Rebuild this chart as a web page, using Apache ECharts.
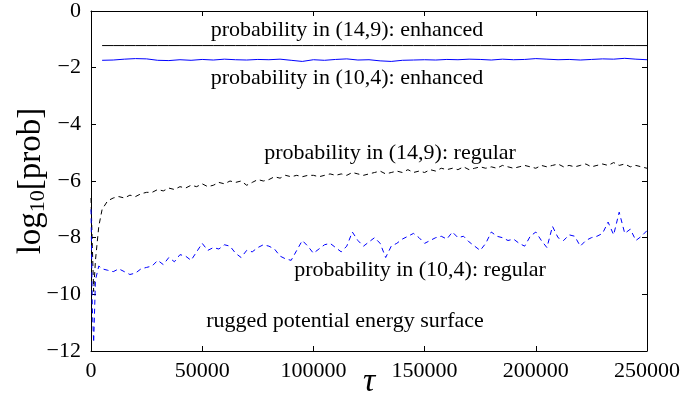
<!DOCTYPE html>
<html>
<head>
<meta charset="utf-8">
<script src="https://cdn.jsdelivr.net/npm/echarts@6/dist/echarts.min.js"></script>
<style>
  html, body { margin: 0; padding: 0; background: #fff; }
  #chart { width: 686px; height: 404px; }
</style>
</head>
<body>
<div id="chart"></div>
<script>
const SERIF = '"Liberation Serif", "DejaVu Serif", serif';

// tau grid for the "regular" runs (dense at the start, then every 2500)
const tauRegular = [0, 600, 1200, 2000, 3500,
  5000, 7500, 10000, 12500, 15000, 17500, 20000, 22500, 25000, 27500,
  30000, 32500, 35000, 37500, 40000, 42500, 45000, 47500, 50000, 52500,
  55000, 57500, 60000, 62500, 65000, 67500, 70000, 72500, 75000, 77500,
  80000, 82500, 85000, 87500, 90000, 92500, 95000, 97500, 100000, 102500,
  105000, 107500, 110000, 112500, 115000, 117500, 120000, 122500, 125000, 127500,
  130000, 132500, 135000, 137500, 140000, 142500, 145000, 147500, 150000, 152500,
  155000, 157500, 160000, 162500, 165000, 167500, 170000, 172500, 175000, 177500,
  180000, 182500, 185000, 187500, 190000, 192500, 195000, 197500, 200000, 202500,
  205000, 207500, 210000, 212500, 215000, 217500, 220000, 222500, 225000, 227500,
  230000, 232500, 235000, 237500, 240000, 242500, 245000, 247500, 250000];

// log10 prob, (14,9) regular  (black dashed)
const reg149 = [-6.6, -8.3, -9.9, -8.8, -7.6,
  -7.0, -6.7, -6.6, -6.55, -6.6, -6.5, -6.55, -6.45, -6.4, -6.4,
  -6.3, -6.35, -6.25, -6.3, -6.2, -6.25, -6.15, -6.2, -6.1, -6.2,
  -6.15, -6.05, -6.1, -6.0, -6.05, -6.0, -6.15, -6.05, -5.95, -6.0,
  -5.95, -5.85, -5.9, -5.8, -5.85, -5.8, -5.85, -5.8, -5.8, -5.85,
  -5.8, -5.75, -5.8, -5.75, -5.8, -5.7, -5.75, -5.8, -5.75, -5.7,
  -5.65, -5.75, -5.7, -5.65, -5.7, -5.6, -5.7, -5.65, -5.7, -5.6,
  -5.65, -5.55, -5.6, -5.55, -5.6, -5.5, -5.6, -5.55, -5.5, -5.55,
  -5.5, -5.55, -5.45, -5.5, -5.55, -5.5, -5.45, -5.5, -5.55, -5.45,
  -5.5, -5.45, -5.4, -5.5, -5.45, -5.5, -5.45, -5.4, -5.5, -5.45,
  -5.4, -5.45, -5.35, -5.45, -5.4, -5.5, -5.45, -5.5, -5.55];

// log10 prob, (10,4) regular  (blue dashed)
const reg104 = [-7.0, -10.5, -11.7, -9.5, -9.0,
  -9.1, -9.15, -9.2, -9.1, -9.2, -9.3, -9.25, -9.1, -9.05, -9.0,
  -8.8, -8.95, -8.7, -8.85, -8.6, -8.65, -8.8, -8.5, -8.2, -8.45,
  -8.35, -8.4, -8.25, -8.3, -8.55, -8.7, -8.45, -8.5, -8.35, -8.25,
  -8.3, -8.4, -8.65, -8.75, -8.8, -8.45, -8.1, -8.3, -8.55, -8.4,
  -8.25, -8.2, -8.35, -8.5, -8.3, -7.8, -8.1, -8.3, -8.15, -8.0,
  -8.2, -8.7, -8.3, -8.2, -8.05, -7.95, -7.85, -8.0, -8.2, -8.1,
  -8.0, -7.95, -8.05, -7.8, -8.0, -7.95, -8.15, -8.3, -8.45, -8.2,
  -7.8, -7.95, -8.0, -8.1, -8.05, -8.2, -8.3, -7.95, -7.8, -8.1,
  -8.35, -7.6, -8.0, -8.1, -7.9, -7.95, -8.3, -8.1, -8.0, -7.95,
  -7.85, -7.45, -7.9, -7.1, -7.85, -7.7, -8.1, -7.95, -7.75];

// tau grid for the "enhanced" runs
const tauEnhanced = [5000, 10000, 15000, 20000, 25000, 30000, 35000, 40000, 45000, 50000,
  55000, 60000, 65000, 70000, 75000, 80000, 85000, 90000, 95000, 100000,
  105000, 110000, 115000, 120000, 125000, 130000, 135000, 140000, 145000, 150000,
  155000, 160000, 165000, 170000, 175000, 180000, 185000, 190000, 195000, 200000,
  205000, 210000, 215000, 220000, 225000, 230000, 235000, 240000, 245000, 250000];

// (14,9) enhanced (black solid)
const enh149 = [-1.22, -1.22, -1.22, -1.22, -1.22, -1.22, -1.22, -1.22, -1.22, -1.22,
  -1.22, -1.22, -1.22, -1.22, -1.22, -1.22, -1.22, -1.22, -1.22, -1.22,
  -1.22, -1.22, -1.22, -1.22, -1.22, -1.22, -1.22, -1.22, -1.22, -1.22,
  -1.22, -1.22, -1.22, -1.22, -1.22, -1.22, -1.22, -1.22, -1.22, -1.22,
  -1.22, -1.22, -1.22, -1.22, -1.22, -1.22, -1.22, -1.22, -1.22, -1.22];

// (10,4) enhanced (blue solid)
const enh104 = [-1.74, -1.73, -1.70, -1.68, -1.69, -1.74, -1.75, -1.72, -1.74, -1.71,
  -1.73, -1.70, -1.72, -1.73, -1.71, -1.72, -1.70, -1.74, -1.78, -1.72,
  -1.74, -1.71, -1.69, -1.73, -1.72, -1.76, -1.78, -1.74, -1.73, -1.72,
  -1.73, -1.71, -1.72, -1.70, -1.71, -1.73, -1.70, -1.72, -1.71, -1.68,
  -1.70, -1.72, -1.71, -1.73, -1.71, -1.69, -1.70, -1.67, -1.70, -1.72];

const notes = [
  { text: 'probability in (14,9): enhanced', x: 347, y: 30 },
  { text: 'probability in (10,4): enhanced', x: 347, y: 78 },
  { text: 'probability in (14,9): regular', x: 390, y: 153 },
  { text: 'probability in (10,4): regular', x: 420, y: 270 },
  { text: 'rugged potential energy surface', x: 345, y: 321 }
];

const zip = (xs, ys) => xs.map((x, i) => [x, ys[i]]);
const minus = (v) => (v < 0 ? '\u2212' + (-v) : String(v));

const chart = echarts.init(document.getElementById('chart'), null, { renderer: 'canvas' });

const axisBase = {
  axisLine: { show: true, onZero: false, lineStyle: { color: '#000', width: 1 } },
  axisTick: { show: true, inside: true, length: 5, lineStyle: { color: '#000' } },
  splitLine: { show: false }
};

chart.setOption({
  animation: false,
  backgroundColor: '#fff',
  grid: { left: 91, right: 39, top: 11, bottom: 53, containLabel: false, outerBoundsMode: 'none' },
  xAxis: [
    {
      ...axisBase,
      type: 'value', min: 0, max: 250000, interval: 50000,
      position: 'bottom',
      axisLabel: { color: '#000', fontFamily: SERIF, fontSize: 22, margin: 9, formatter: (v) => String(v) },
      name: '\u03c4',
      nameLocation: 'middle',
      nameGap: 14,
      nameMoveOverlap: false,
      nameTextStyle: { color: '#000', fontFamily: SERIF, fontSize: 34, fontStyle: 'italic', fontWeight: 'normal' }
    },
    {
      ...axisBase,
      type: 'value', min: 0, max: 250000, interval: 50000,
      position: 'top',
      axisLabel: { show: false }
    }
  ],
  yAxis: [
    {
      ...axisBase,
      type: 'value', min: -12, max: 0, interval: 2,
      position: 'left',
      axisLabel: { color: '#000', fontFamily: SERIF, fontSize: 22, margin: 10, formatter: minus },
      name: '{a|log}{s|10}{a|[prob]}',
      nameLocation: 'middle',
      nameRotate: 90,
      nameGap: 42,
      nameMoveOverlap: false,
      nameTextStyle: {
        color: '#000',
        rich: {
          a: { fontFamily: SERIF, fontSize: 33, color: '#000' },
          s: { fontFamily: SERIF, fontSize: 22, color: '#000', padding: [14, 0, 0, 0] }
        }
      }
    },
    {
      ...axisBase,
      type: 'value', min: -12, max: 0, interval: 2,
      position: 'right',
      axisLabel: { show: false }
    }
  ],
  series: [
    {
      name: '(14,9) enhanced', type: 'line', showSymbol: false,
      data: zip(tauEnhanced, enh149),
      lineStyle: { color: '#000', width: 1 }
    },
    {
      name: '(10,4) enhanced', type: 'line', showSymbol: false,
      data: zip(tauEnhanced, enh104),
      lineStyle: { color: '#0000ff', width: 1 }
    },
    {
      name: '(14,9) regular', type: 'line', showSymbol: false,
      data: zip(tauRegular, reg149),
      lineStyle: { color: '#000', width: 1, type: [5, 4] }
    },
    {
      name: '(10,4) regular', type: 'line', showSymbol: false,
      data: zip(tauRegular, reg104),
      lineStyle: { color: '#0000ff', width: 1, type: [5, 4] }
    }
  ],
  graphic: notes.map((n) => ({
    type: 'text',
    x: n.x, y: n.y,
    style: {
      text: n.text,
      fill: '#000',
      font: '22px ' + SERIF,
      align: 'center',
      verticalAlign: 'middle'
    }
  }))
});
</script>
</body>
</html>
